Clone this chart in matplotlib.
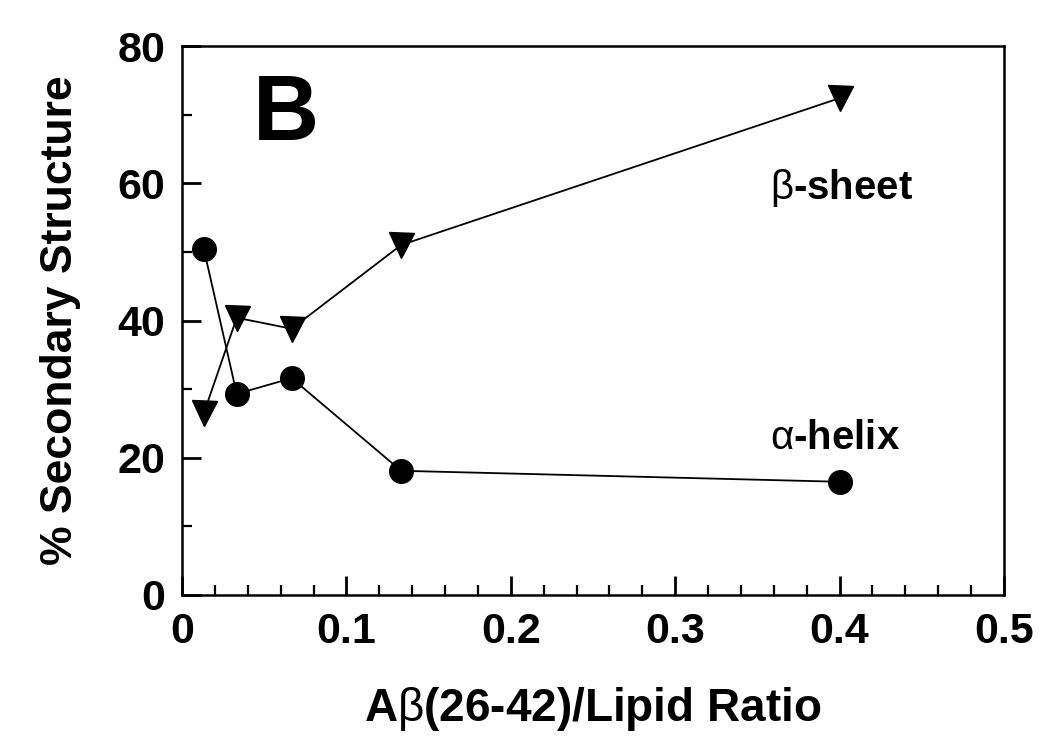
import matplotlib
matplotlib.use("Agg")
import matplotlib.pyplot as plt
from matplotlib.ticker import MultipleLocator

plt.rcParams['font.family'] = ['Liberation Sans', 'DejaVu Sans']
plt.rcParams['font.weight'] = 'bold'
plt.rcParams['mathtext.fontset'] = 'custom'
plt.rcParams['mathtext.rm'] = 'Liberation Sans:weight=normal'
plt.rcParams['mathtext.bf'] = 'Liberation Sans:weight=bold'

ratio = [0.0133, 0.0333, 0.0667, 0.1333, 0.4]
helix = [50.4, 29.3, 31.6, 18.1, 16.5]
sheet = [26.5, 40.4, 38.8, 51.0, 72.4]
xticks = [0, 0.1, 0.2, 0.3, 0.4, 0.5]
xticklabels = ['0', '0.1', '0.2', '0.3', '0.4', '0.5']

fig = plt.figure(figsize=(10.5, 7.49), dpi=100)
ax = fig.add_axes([182/1050, 1-595/749, (1004-182)/1050, (595-46)/749])

ax.plot(ratio, helix, '-', color='black', lw=1.3, marker='o', ms=17)
ax.plot(ratio, sheet, '-', color='black', lw=1.3, marker='v', ms=18)

ax.set_xlim(0, 0.5)
ax.set_ylim(0, 80)
ax.set_xticks(xticks)
ax.set_xticklabels(xticklabels)
ax.xaxis.set_minor_locator(MultipleLocator(0.02))
ax.yaxis.set_major_locator(MultipleLocator(20))
ax.yaxis.set_minor_locator(MultipleLocator(10))
ax.tick_params(which='major', direction='in', length=14, width=2, labelsize=31, pad=12)
ax.tick_params(which='minor', direction='in', length=7, width=1.6)
for s in ax.spines.values():
    s.set_linewidth(1.8)

ax.set_xlabel(r'A$\mathrm{β}$(26-42)/Lipid Ratio', fontsize=33, fontweight='bold', labelpad=24)
ax.set_ylabel('% Secondary Structure', fontsize=32, fontweight='bold', labelpad=26)

ax.text(0.0633, 66.3, 'B', fontsize=66, fontweight='bold', ha='center', va='baseline')
ax.text(0.4015, 57.7, r'$\mathrm{β}$-sheet', fontsize=29, fontweight='bold', ha='center', va='baseline')
ax.text(0.397, 21.3, r'$\mathrm{α}$-helix', fontsize=29, fontweight='bold', ha='center', va='baseline')

fig.savefig('out.png', dpi=100)
